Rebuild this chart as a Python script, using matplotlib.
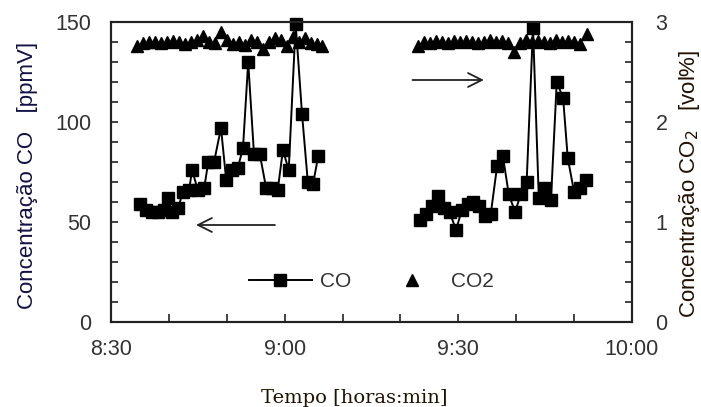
import matplotlib
matplotlib.use("Agg")
import matplotlib.pyplot as plt

# times in minutes after 8:30
co_t1 = [5.0, 6.0, 7.1, 8.1, 9.2, 9.8, 10.5, 11.6, 12.4, 13.5, 14.0, 15.0, 16.1,
         16.8, 17.8, 19.0, 19.9, 20.9, 21.9, 22.8, 23.7, 24.7, 25.7, 26.8, 27.8,
         28.8, 29.7, 30.7, 31.9, 33.0, 34.0, 34.9, 35.8]
co_v1 = [59, 56, 55, 55, 56, 62, 55, 57, 65, 66, 76, 66, 67,
         80, 80, 97, 71, 76, 77, 87, 130, 84, 84, 67, 67,
         66, 86, 76, 149, 104, 70, 69, 83]

co_t2 = [53.4, 54.4, 55.4, 56.5, 57.5, 58.5, 59.6, 60.6, 61.7, 62.5, 63.6, 64.6,
         65.6, 66.7, 67.7, 68.7, 69.8, 70.8, 71.8, 72.9, 73.9, 75.0, 76.0, 77.0,
         78.1, 78.9, 80.0, 81.0, 82.0]
co_v2 = [51, 54, 58, 63, 57, 55, 46, 56, 59, 60, 58, 53,
         54, 78, 83, 64, 55, 64, 70, 147, 62, 67, 61, 120,
         112, 82, 65, 67, 71]

co2_t1 = [4.5, 5.5, 6.6, 7.6, 8.6, 9.7, 10.7, 11.7, 12.8, 13.8, 14.9, 15.9, 16.9,
          18.0, 19.0, 20.0, 21.1, 22.1, 23.1, 24.2, 25.2, 26.3, 27.3, 28.3, 29.4,
          30.4, 31.4, 32.5, 33.5, 34.5, 35.6, 36.4]
co2_v1 = [2.76, 2.79, 2.80, 2.80, 2.79, 2.80, 2.81, 2.80, 2.78, 2.80, 2.82, 2.86, 2.80,
          2.79, 2.90, 2.82, 2.78, 2.80, 2.77, 2.82, 2.80, 2.73, 2.80, 2.84, 2.82,
          2.76, 2.85, 2.80, 2.84, 2.79, 2.78, 2.76]

co2_t2 = [53.0, 54.1, 55.1, 56.1, 57.2, 58.2, 59.2, 60.3, 61.3, 62.3, 63.4, 64.4,
          65.5, 66.5, 67.5, 68.6, 69.6, 70.6, 71.7, 72.7, 73.7, 74.8, 75.8, 76.9,
          77.9, 78.9, 80.0, 81.0, 82.2]
co2_v2 = [2.76, 2.80, 2.79, 2.81, 2.80, 2.79, 2.81, 2.80, 2.81, 2.80, 2.79, 2.80,
          2.82, 2.80, 2.81, 2.79, 2.70, 2.79, 2.82, 2.80, 2.81, 2.80, 2.79, 2.82,
          2.80, 2.81, 2.80, 2.78, 2.88]

x_ticks = [0, 30, 60, 90]
x_labels = ["8:30", "9:00", "9:30", "10:00"]

tick_color = "#333333"
sans = "Liberation Sans"

fig = plt.figure(figsize=(7.01, 4.07), dpi=100)
ax = fig.add_axes([111 / 701, 85 / 407, 521 / 701, 300 / 407])
ax2 = ax.twinx()

co_style = dict(color="black", marker="s", markersize=9, linewidth=1.4,
                markeredgecolor="black", clip_on=False)
ax.plot(co_t1, co_v1, label="CO", **co_style)
ax.plot(co_t2, co_v2, **co_style)

tri_style = dict(color="black", marker="^", markersize=9, linestyle="none")
ax2.plot(co2_t1, co2_v1, label="CO2", **tri_style)
ax2.plot(co2_t2, co2_v2, **tri_style)

ax.set_xlim(0, 90)
ax.set_ylim(0, 150)
ax2.set_ylim(0, 3)

ax.set_xticks(x_ticks)
ax.set_xticklabels(x_labels)
ax.set_xticks(range(0, 91, 10), minor=True)
ax.set_yticks([0, 50, 100, 150])
ax.set_yticks(range(0, 151, 10), minor=True)
ax2.set_yticks([0, 1, 2, 3])
ax2.set_yticks([i / 5 for i in range(16)], minor=True)

for a in (ax, ax2):
    a.tick_params(which="both", direction="in", length=5, width=1.2,
                  labelsize=15.5, labelcolor=tick_color, color="#222222")
    for lab in a.get_xticklabels() + a.get_yticklabels():
        lab.set_fontfamily(sans)
    for s in a.spines.values():
        s.set_linewidth(1.5)
        s.set_color("#222222")
ax.tick_params(axis="y", which="both", pad=14)
ax.tick_params(axis="x", which="both", pad=12, length=6)
ax2.tick_params(axis="y", which="both", pad=17)

ax.set_ylabel("Concentração CO   [ppmV]", fontsize=16, family=sans, color="#111144")
ax.yaxis.set_label_coords(-0.14, 0.49)
ax2.set_ylabel("Concentração CO$_2$   [vol%]", fontsize=16, family=sans,
               color="#221100")
ax2.yaxis.set_label_coords(1.086, 0.46)
ax.set_xlabel("Tempo [horas:min]", fontsize=14, family="DejaVu Serif", color="#221100")
ax.xaxis.set_label_coords(0.466, -0.222)

# arrows pointing to each axis
ax.annotate("", xy=(14.2, 48.5), xytext=(28.8, 48.5),
            arrowprops=dict(arrowstyle="->", color="#222222", lw=1.3,
                            mutation_scale=25))
ax.annotate("", xy=(64.9, 121), xytext=(51.6, 121),
            arrowprops=dict(arrowstyle="->", color="#222222", lw=1.3,
                            mutation_scale=25))

h1, l1 = ax.get_legend_handles_labels()
h2, l2 = ax2.get_legend_handles_labels()
leg = ax.legend(h1 + h2, l1 + l2, loc="center", bbox_to_anchor=(0.50, 0.135),
                ncol=2, frameon=False, handlelength=3.0, handletextpad=0.4,
                columnspacing=1.4, prop={"family": sans, "size": 15})
for t in leg.get_texts():
    t.set_color(tick_color)

fig.savefig("out.png", dpi=100)
